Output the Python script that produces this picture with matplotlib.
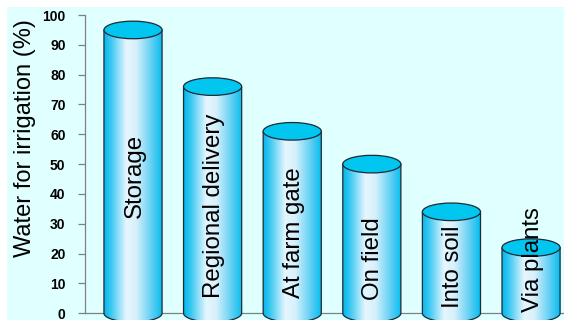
import numpy as np
import matplotlib.pyplot as plt
from matplotlib.patches import Ellipse, Polygon, Rectangle
from matplotlib.colors import LinearSegmentedColormap

stages = ["Storage", "Regional delivery", "At farm gate", "On field", "Into soil", "Via plants"]
water_pct = [95, 76, 61, 50, 34, 22]
# where the bottom of each stage label sits, in axis units
label_base = [32, 5, 5, 4.4, 1.7, 0.3]

plt.rcParams['font.family'] = ['Liberation Sans', 'DejaVu Sans']

fig = plt.figure(figsize=(5.64, 3.20), dpi=100)
fig.patch.set_facecolor('white')
fig.patches.append(Rectangle((7 / 564, 0), 1, 313 / 320, transform=fig.transFigure,
                             facecolor='#E0FFFF', edgecolor='none', zorder=-10))

ax = fig.add_axes([85 / 564, -0.016, 1 - 85 / 564, 0.969])
ax.set_facecolor('none')
ax.set_xlim(-0.603, 5.414)
ax.set_ylim(-4, 100)

# horizontal shading of the cylinder bodies
body_cmap = LinearSegmentedColormap.from_list('cyl', [
    (0.0, '#00B8EC'), (0.12, '#3CC8F2'), (0.38, '#E6F6FF'),
    (0.55, '#D6F0FC'), (0.82, '#5CCEF4'), (1.0, '#00BCEE')])
grad = np.linspace(0, 1, 256).reshape(1, -1)

w = 0.73
eh = 5.9
t = np.linspace(np.pi, 2 * np.pi, 60)
for i, (name, val) in enumerate(zip(stages, water_pct)):
    left, right = i - w / 2, i + w / 2
    arc = np.column_stack([i + w / 2 * np.cos(t), eh / 2 * np.sin(t)])
    pts = np.vstack([[left, val], arc, [right, val]])
    body = Polygon(pts, closed=True, facecolor='none', edgecolor='#1E2A36',
                   linewidth=0.9, zorder=4)
    ax.add_patch(body)
    im = ax.imshow(grad, cmap=body_cmap, aspect='auto',
                   extent=[left, right, -eh, val], zorder=3, interpolation='bilinear')
    im.set_clip_path(body)
    ax.add_patch(Ellipse((i, val), w, eh, facecolor='#00C6F0', edgecolor='#1E2A36',
                         linewidth=0.9, zorder=5))
    ax.text(i + 0.02, label_base[i], name, rotation=90, ha='center', va='bottom',
            fontsize=17.3, color='black', zorder=6)

for s in ['top', 'right']:
    ax.spines[s].set_visible(False)
ax.spines['left'].set_bounds(0, 100)
ax.spines['bottom'].set_position(('data', 0))
for s in ['left', 'bottom']:
    ax.spines[s].set_color('#808080')
    ax.spines[s].set_linewidth(0.9)

ax.set_xticks([])
ax.set_yticks(range(0, 101, 10))
ax.tick_params(axis='y', length=5, width=0.9, color='#808080', pad=9)
for lbl in ax.get_yticklabels():
    lbl.set_fontweight('bold')
    lbl.set_fontsize(10)

fig.text(25 / 564, (320 - 138) / 320, "Water for irrigation (%)", rotation=90,
         ha='center', va='center', fontsize=17)

fig.savefig('out.png', dpi=100)
